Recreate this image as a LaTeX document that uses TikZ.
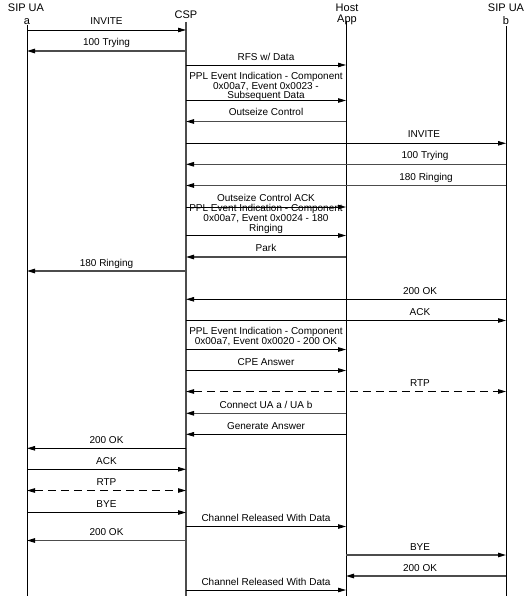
\documentclass[tikz,border=0pt]{standalone}
\usepackage{fontspec}
\setmainfont{Liberation Sans}
\usetikzlibrary{arrows.meta}
\tikzset{
  tip/.tip={Triangle[length=8pt,width=4.5pt,color=black]},
  msg/.style={draw=black, line width=0.8pt, -tip},
  msgg/.style={draw=black!70, line width=1.2pt, -tip},
  rtp/.style={draw=black, line width=0.8pt, dash pattern=on 8pt off 5pt, tip-tip},
  lifeline/.style={draw=black, line width=0.8pt},
  lifelineg/.style={draw=black!70, line width=1.2pt},
  lbl/.style={font=\fontsize{10}{9.8}\selectfont, anchor=base, inner sep=0pt, align=center},
  hdr/.style={font=\fontsize{11}{12.5}\selectfont, anchor=base, inner sep=0pt, align=center}
}
\newcommand\mymsg[5]{% style, from, to, y, name
  \coordinate (#5s) at (#2 |- 0,#4);
  \coordinate (#5e) at (#3 |- 0,#4);
  \draw[#1] (#5s) -- (#5e);}
\begin{document}
\begin{tikzpicture}[x=1pt,y=-1pt]
\useasboundingbox (0,0) rectangle (531,596);
% headers
\node[hdr] (hA1) at (26,12) {SIP UA};
\node[hdr] (hA2) at (27,24.5) {a};
\node[hdr] (hC) at (186,18.5) {CSP};
\node[hdr] (hH1) at (347,12) {Host};
\node[hdr] (hH2) at (347,22.5) {App};
\node[hdr] (hB1) at (506,12) {SIP UA};
\node[hdr] (hB2) at (506,24.5) {b};
% lifelines
\coordinate (A) at (27,25);   \coordinate (Ab) at (27,596);
\coordinate (C) at (186,22);  \coordinate (Cb) at (186,596);
\coordinate (H) at (346,21);  \coordinate (Hb) at (346,596);
\coordinate (B) at (506,26);  \coordinate (Bb) at (506,596);
\draw[lifeline] (A) -- (Ab);
\draw[lifelineg] (C) -- (Cb);
\draw[lifeline] (H) -- (Hb);
\draw[lifeline] (B) -- (Bb);
% messages
\mymsg{msg}{A}{C}{30}{m1}
\node[lbl] (l1) at (106.5,25) {INVITE};
\mymsg{msgg}{C}{A}{51}{m2}
\node[lbl] (l2) at (106.5,46) {100 Trying};
\mymsg{msg}{C}{H}{65}{m3}
\node[lbl] (l3) at (266,60.5) {RFS w/ Data};
\mymsg{msg}{C}{H}{100.5}{m4}
\node[lbl] (l4) at (266,98.9) {PPL Event Indication - Component\\0x00a7, Event 0x0023 -\\Subsequent Data};
\mymsg{msgg}{H}{C}{121.5}{m5}
\node[lbl] (l5) at (266,115.5) {Outseize Control};
\mymsg{msg}{C}{B}{143.3}{m6}
\node[lbl] (l6) at (424,138) {INVITE};
\mymsg{msgg}{B}{C}{164.3}{m7}
\node[lbl] (l7) at (425,159) {100 Trying};
\mymsg{msgg}{B}{C}{185.5}{m8}
\node[lbl] (l8) at (426,180) {180 Ringing};
\mymsg{msg}{C}{H}{207}{m9}
\node[lbl] (l9) at (266,201.5) {Outseize Control ACK};
\mymsg{msg}{C}{H}{235.5}{m10}
\node[lbl] (l10) at (266,231) {PPL Event Indication - Component\\0x00a7, Event 0x0024 - 180\\Ringing};
\mymsg{msgg}{H}{C}{257}{m11}
\node[lbl] (l11) at (266,251.5) {Park};
\mymsg{msgg}{C}{A}{271}{m12}
\node[lbl] (l12) at (106.5,266) {180 Ringing};
\mymsg{msg}{B}{C}{299.3}{m13}
\node[lbl] (l13) at (420,294) {200 OK};
\mymsg{msg}{C}{B}{320.5}{m14}
\node[lbl] (l14) at (420,315) {ACK};
\mymsg{msg}{C}{H}{349.5}{m15}
\node[lbl] (l15) at (266,344.3) {PPL Event Indication - Component\\0x00a7, Event 0x0020 - 200 OK};
\mymsg{msg}{C}{H}{370.5}{m16}
\node[lbl] (l16) at (266,365.5) {CPE Answer};
\mymsg{rtp}{C}{B}{391.5}{m17}
\node[lbl] (l17) at (420,386) {RTP};
\mymsg{msgg}{H}{C}{413.3}{m18}
\node[lbl] (l18) at (266,408) {Connect UA a / UA b};
\mymsg{msg}{H}{C}{434.3}{m19}
\node[lbl] (l19) at (266,429) {Generate Answer};
\mymsg{msg}{C}{A}{448.3}{m20}
\node[lbl] (l20) at (106.5,443) {200 OK};
\mymsg{msg}{A}{C}{469.3}{m21}
\node[lbl] (l21) at (106.5,464) {ACK};
\mymsg{rtp}{A}{C}{490.5}{m22}
\node[lbl] (l22) at (106.5,485) {RTP};
\mymsg{msg}{A}{C}{512.5}{m23}
\node[lbl] (l23) at (106.5,507) {BYE};
\mymsg{msg}{C}{H}{526.5}{m24}
\node[lbl] (l24) at (266,521) {Channel Released With Data};
\mymsg{msgg}{C}{A}{540.5}{m25}
\node[lbl] (l25) at (106.5,535) {200 OK};
\mymsg{msgg}{H}{B}{555}{m26}
\node[lbl] (l26) at (420,550) {BYE};
\mymsg{msgg}{B}{H}{576}{m27}
\node[lbl] (l27) at (420,571) {200 OK};
\mymsg{msg}{C}{H}{590}{m28}
\node[lbl] (l28) at (266,585) {Channel Released With Data};
\end{tikzpicture}
\end{document}
